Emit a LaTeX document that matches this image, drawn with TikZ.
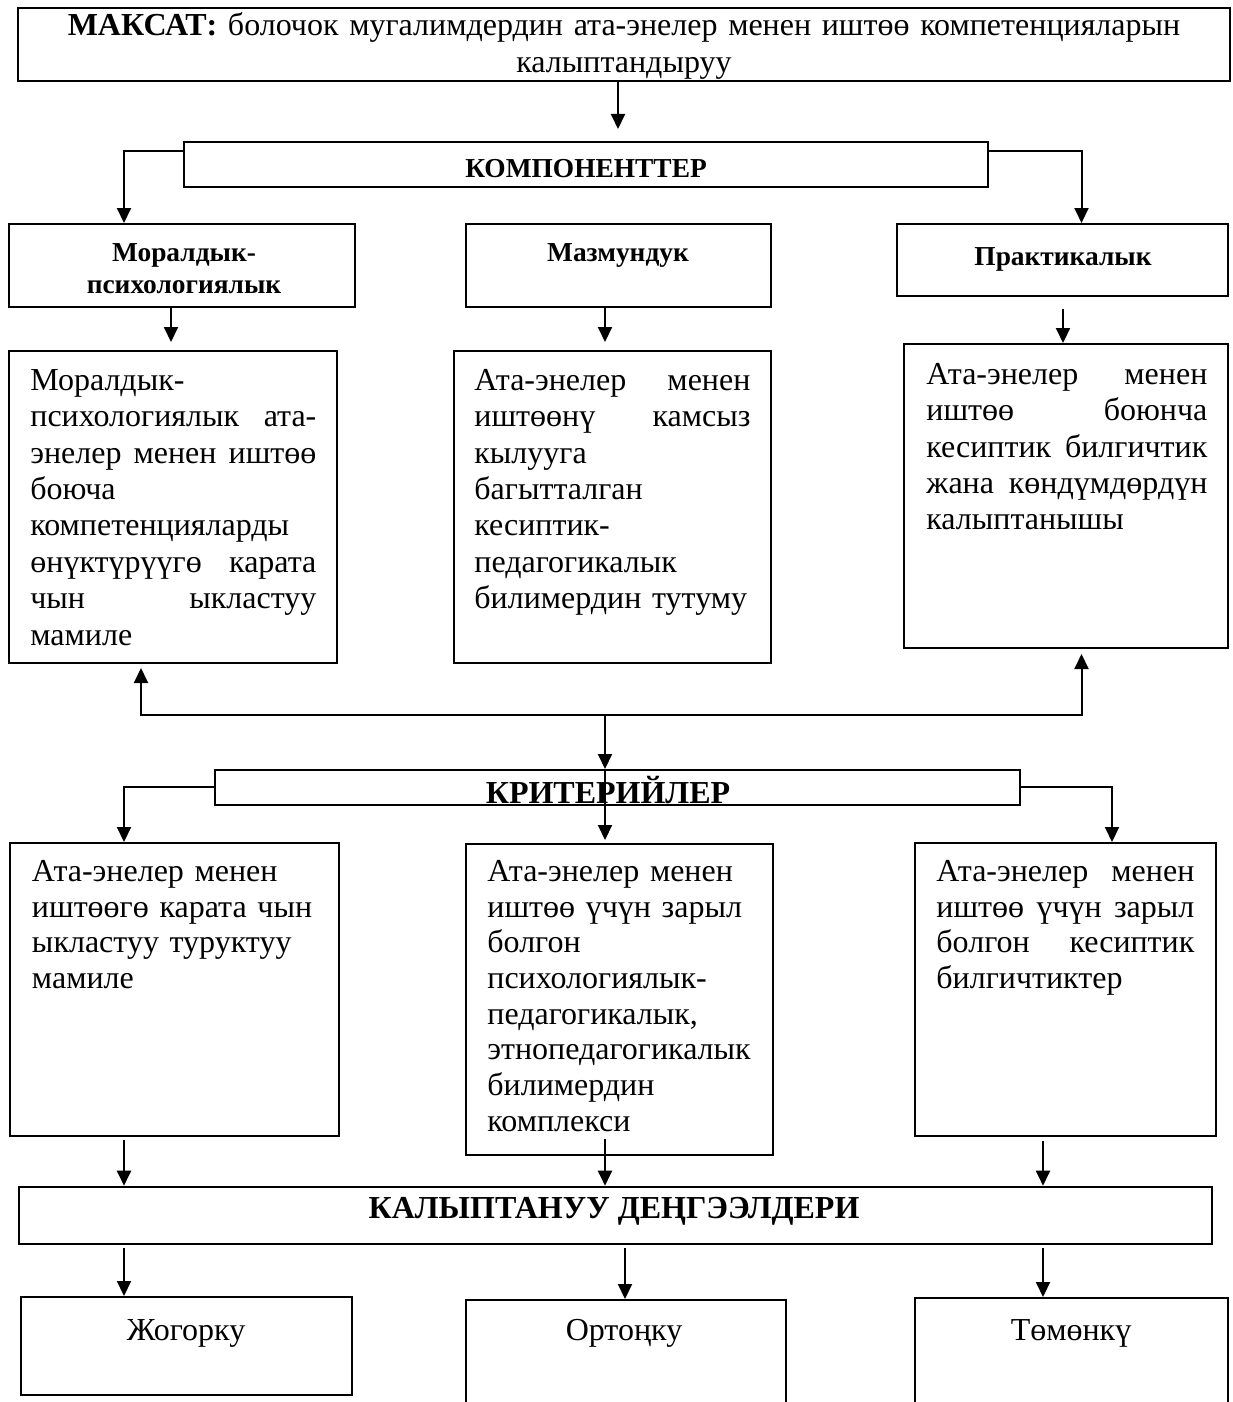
\documentclass[tikz,border=0pt]{standalone}
\usepackage{fontspec}
\setmainfont{Liberation Serif}
\usetikzlibrary{arrows.meta,fit}
\newcommand\jline[1]{\makebox[\hsize][s]{\spaceskip=0pt\xspaceskip=0pt #1}}
\begin{document}
\begin{tikzpicture}[x=0.5pt,y=-0.5pt,
  box/.style={draw, line width=1pt, inner sep=0pt},
  boxthick/.style={draw, line width=1.3pt, inner sep=0pt},
  arr/.style={line width=1pt, -{Triangle[width=7pt,length=7.5pt]}},
  body/.style={font=\fontsize{16pt}{18.2pt}\selectfont, inner sep=0pt, anchor=north west, align=left},
  bodyc/.style={font=\fontsize{16pt}{17.85pt}\selectfont, inner sep=0pt, anchor=north west, align=left},
  hdr/.style={font=\fontsize{13.7pt}{16pt}\selectfont\bfseries, inner sep=0pt},
  big/.style={font=\fontsize{16pt}{18pt}\selectfont\bfseries, inner sep=0pt, anchor=base},
  lvl/.style={font=\fontsize{16pt}{18pt}\selectfont, inner sep=0pt, anchor=base}]
\useasboundingbox (0,0) rectangle (1232,1402);
\fill[white] (0,0) rectangle (1232,1402);
\clip (0,0) rectangle (1232,1402);

% x positions of connectors
\coordinate (xa) at (618,0);
\coordinate (xb) at (124,0);
\coordinate (xc) at (1081.5,0);
\coordinate (xd) at (171,0);
\coordinate (xe) at (605,0);
\coordinate (xf) at (1063,0);
\coordinate (xg) at (141,0);
\coordinate (xh) at (1112,0);
\coordinate (xi) at (1043,0);
\coordinate (xj) at (625,0);
\coordinate (jn) at (605,715);
\coordinate (cmo) at (605,1139);

% boxes
\node[boxthick, fit={(18,8) (1230,81)}] (top) {};
\node[box, fit={(184,142) (988,187)}] (komp) {};
\node[box, fit={(9,224) (355,307)}] (mh) {};
\node[box, fit={(466,224) (771,307)}] (zh) {};
\node[box, fit={(897,224) (1228,296)}] (ph) {};
\node[box, fit={(9,351) (337,663)}] (mt) {};
\node[box, fit={(454,351) (771,663)}] (zt) {};
\node[box, fit={(904,344) (1228,648)}] (pt) {};
\node[box, fit={(215,770) (1020,805)}] (krit) {};
\node[box, fit={(10,843) (339,1136)}] (cl) {};
\node[box, fit={(466,844) (773,1155)}] (cm) {};
\node[box, fit={(915,843) (1216,1136)}] (cr) {};
\node[boxthick, fit={(19,1187) (1212,1244)}] (kal) {};
\node[box, fit={(21,1297) (352,1395)}] (lv1) {};
\node[box, fit={(466,1300) (786,1420)}] (lv2) {};
\node[box, fit={(915,1298) (1228,1420)}] (lv3) {};

% texts
\node[font=\fontsize{16pt}{18.5pt}\selectfont, inner sep=0pt, anchor=north, align=center, text width=595pt] (ttlT) at (624,9.1)
  {\strut\textbf{МАКСАТ:} болочок мугалимдердин ата-энелер менен иштөө компетенцияларын\\калыптандыруу};
\node[hdr, anchor=base] (kompT) at (586,177) {КОМПОНЕНТТЕР};
\node[hdr, anchor=north, align=center, text width=160pt] (mhT) at (184,238.6) {\strut Моралдык-\\психологиялык};
\node[hdr, anchor=base] (zhT) at (618,261) {Мазмундук};
\node[hdr, anchor=base] (phT) at (1063,265) {Практикалык};

\node[body, text width=143pt] (mtT) at (30,364.5) {\strut Моралдык-\\
\jline{психологиялык ата-}\\
\jline{энелер менен иштөө}\\
боюча\\
компетенцияларды\\
\jline{өнүктүрүүгө карата}\\
\jline{чын ыкластуу}\\
мамиле};

\node[body, text width=138pt] (ztT) at (474,364.5) {\strut\jline{Ата-энелер менен}\\
\jline{иштөөнү камсыз}\\
кылууга\\
багытталган\\
кесиптик-\\
педагогикалык\\
билимердин тутуму};

\node[body, text width=140.5pt] (ptT) at (926,358.5) {\strut\jline{Ата-энелер менен}\\
\jline{иштөө боюнча}\\
\jline{кесиптик билгичтик}\\
\jline{жана көндүмдөрдүн}\\
калыптанышы};

\node[big] (kritT) at (608,803) {КРИТЕРИЙЛЕР};

\node[bodyc, text width=150pt] (clT) at (31.6,856) {\strut Ата-энелер менен\\
иштөөгө карата чын\\
ыкластуу туруктуу\\
мамиле};

\node[bodyc, text width=140pt] (cmT) at (487,856) {\strut Ата-энелер менен\\
иштөө үчүн зарыл\\
болгон\\
психологиялык-\\
педагогикалык,\\
этнопедагогикалык\\
билимердин\\
комплекси};

\node[bodyc, text width=129pt] (crT) at (936,856) {\strut\jline{Ата-энелер менен}\\
\jline{иштөө үчүн зарыл}\\
\jline{болгон кесиптик}\\
билгичтиктер};

\node[big] (kalT) at (614,1218) {КАЛЫПТАНУУ ДЕҢГЭЭЛДЕРИ};

\node[lvl] (lv1T) at (186,1340) {Жогорку};
\node[lvl] (lv2T) at (624,1340) {Ортоңку};
\node[lvl] (lv3T) at (1071,1340) {Төмөнкү};

% connectors
\draw[arr, shorten >=6pt] (top.south -| xa) -- (komp.north -| xa);
\draw[arr] ([yshift=-5pt]komp.north west) -| (mh.north -| xb);
\draw[arr] ([yshift=-5pt]komp.north east) -| (ph.north -| xc);
\draw[arr, shorten >=4pt] (mh.south -| xd) -- (mt.north -| xd);
\draw[arr, shorten >=4pt] (zh.south -| xe) -- (zt.north -| xe);
\draw[arr, shorten <=6pt] (ph.south -| xf) -- (pt.north -| xf);
\draw[arr, shorten >=2pt] (jn) -| (mt.south -| xg);
\draw[arr, shorten >=2.5pt] (jn) -| (pt.south -| xc);
\draw[arr] (jn) -- (krit.north -| jn);
\draw[arr, shorten >=1.5pt] (krit.north -| jn) -- (cm.north -| jn);
\draw[arr] ([yshift=-9pt]krit.north west) -| (cl.north -| xb);
\draw[arr] ([yshift=-9pt]krit.north east) -| (cr.north -| xh);
\draw[arr, shorten <=1.5pt] (cl.south -| xb) -- (kal.north -| xb);
\draw[arr] (cmo) -- (kal.north -| cmo);
\draw[arr, shorten <=2pt] (cr.south -| xi) -- (kal.north -| xi);
\draw[arr, shorten <=1.5pt] (kal.south -| xb) -- (lv1.north -| xb);
\draw[arr, shorten <=1.5pt] (kal.south -| xj) -- (lv2.north -| xj);
\draw[arr, shorten <=1.5pt] (kal.south -| xi) -- (lv3.north -| xi);
\end{tikzpicture}
\end{document}
